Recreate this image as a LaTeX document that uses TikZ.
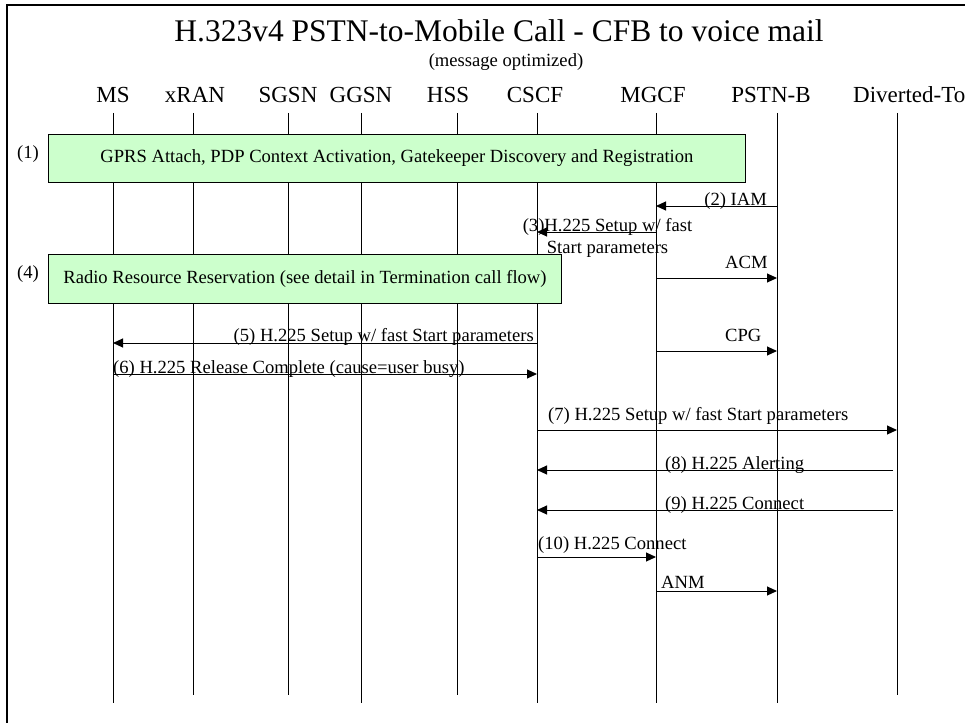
\documentclass[tikz,border=0pt]{standalone}
\usepackage{fontspec}
\setmainfont{Liberation Serif}
\usetikzlibrary{arrows.meta}
\definecolor{stagegreen}{RGB}{204,255,204}

\begin{document}
\begin{tikzpicture}[
  x=1pt, y=-1pt,
  title/.style={font=\fontsize{31.5}{36}\selectfont, inner sep=0pt, anchor=base},
  subtitle/.style={font=\fontsize{18.6}{22}\selectfont, inner sep=0pt, anchor=base},
  hdr/.style={font=\fontsize{23}{27}\selectfont, inner sep=0pt, anchor=base},
  life/.style={draw=black, line width=0.9pt},
  stagebox/.style={draw=black, fill=stagegreen, line width=0.9pt,
                   inner sep=0pt, anchor=north west,
                   font=\fontsize{18.6}{22}\selectfont},
  lbl/.style={font=\fontsize{18.6}{22}\selectfont, inner sep=0pt},
  msg/.style={draw=black, line width=1pt, -{Triangle[length=10pt, width=9pt]}}
]
\useasboundingbox (0,0) rectangle (965,722);

% frame
\draw[line width=2.5pt] (7,730) -- (7,5) -- (975,5);

\node[title] (ttl) at (499,42) {H.323v4 PSTN-to-Mobile Call - CFB to voice mail};
\node[subtitle] (subttl) at (506,67) {(message optimized)};

\node[hdr] (ms)    at (113,103) {MS};
\node[hdr] (xran)  at (195,103) {xRAN};
\node[hdr] (sgsn)  at (288,103) {SGSN};
\node[hdr] (ggsn)  at (361,103) {GGSN};
\node[hdr] (hss)   at (448,103) {HSS};
\node[hdr] (cscf)  at (535,103) {CSCF};
\node[hdr] (mgcf)  at (653,103) {MGCF};
\node[hdr] (pstnb) at (771,103) {PSTN-B};
\node[hdr, anchor=base west] (divto) at (853,103) {Diverted-To};

% lifelines
\foreach \name/\x/\yend in {ms/113/703, xran/193/695, sgsn/288/695,
    ggsn/361/703, hss/457/695, cscf/537/703, mgcf/656/703,
    pstnb/777/703, divto/897/695} {
  \coordinate (\name-top) at (\x,113);
  \coordinate (\name-bot) at (\x,\yend);
  \draw[life] (\name-top) -- (\name-bot);
}
\coordinate (divto-out) at (893,113);

% procedures
\node[stagebox, minimum width=697pt, minimum height=48pt] (attach) at (48,134)
  {GPRS Attach, PDP Context Activation, Gatekeeper Discovery and Registration};
\node[lbl, anchor=base] (proc1) at (28,158) {(1)};

\node[stagebox, minimum width=513pt, minimum height=49pt] (radio) at (48,254)
  {Radio Resource Reservation (see detail in Termination call flow)};
\node[lbl, anchor=base] (proc4) at (28,278) {(4)};

% messages
\draw[msg] (pstnb-top |- 0,206) -- (mgcf-top |- 0,206);
\node[lbl, anchor=base east] (iam) at (767,205) {(2) IAM};

\draw[msg] (mgcf-top |- 0,232) -- (cscf-top |- 0,232);
\node[lbl, anchor=base] (setup3a) at (607.5,231) {(3)H.225 Setup w/ fast};
\node[lbl, anchor=base] (setup3b) at (607.5,253) {Start parameters};

\draw[msg] (mgcf-top |- 0,278) -- (pstnb-top |- 0,278);
\node[lbl, anchor=base west] (acm) at (725,268) {ACM};

\draw[msg] (cscf-top |- 0,343) -- (ms-top |- 0,343);
\node[lbl, anchor=base east] (setup5) at (534,341) {(5) H.225 Setup w/ fast Start parameters};

\draw[msg] (mgcf-top |- 0,351) -- (pstnb-top |- 0,351);
\node[lbl, anchor=base west] (cpg) at (725,341) {CPG};

\draw[msg] (ms-top |- 0,374) -- (cscf-top |- 0,374);
\node[lbl, anchor=base west] (rel6) at (113,373) {(6) H.225 Release Complete (cause=user busy)};

\draw[msg] (cscf-top |- 0,430) -- (divto-top |- 0,430);
\node[lbl, anchor=base west] (setup7) at (548,420) {(7) H.225 Setup w/ fast Start parameters};

\draw[msg] (divto-out |- 0,470) -- (cscf-top |- 0,470);
\node[lbl, anchor=base west] (alert8) at (665,469) {(8) H.225 Alerting};

\draw[msg] (divto-out |- 0,510) -- (cscf-top |- 0,510);
\node[lbl, anchor=base west] (conn9) at (665,509) {(9) H.225 Connect};

\draw[msg] (cscf-top |- 0,557) -- (mgcf-top |- 0,557);
\node[lbl, anchor=base west] (conn10) at (538,549) {(10) H.225 Connect};

\draw[msg] (mgcf-top |- 0,591) -- (pstnb-top |- 0,591);
\node[lbl, anchor=base west] (anm) at (661,588) {ANM};

\end{tikzpicture}
\end{document}
